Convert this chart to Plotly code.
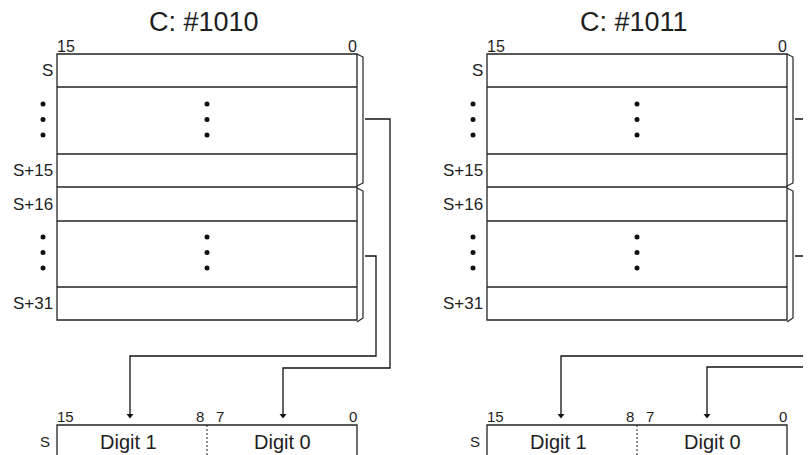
import plotly.graph_objects as go

# labels / texts
panel_titles = ["C: #1010", "C: #1011"]
row_labels = ["S", "S+15", "S+16", "S+31"]
top_bits = ["15", "0"]
bottom_bits = ["15", "8", "7", "0"]
digit_labels = ["Digit 1", "Digit 0"]

# geometry (pixel space of the page)
shift = [0, 430]
box_l, box_r = 57, 357
row_edges = [54, 87, 154, 187, 221, 287, 320]
label_rows_y = [70.5, 170.5, 204, 303.5]
dot_rows_y = [104, 119.5, 135, 237, 252.5, 268]
bot_top, bot_mid = 425, 207

# connector routes per panel: list of (x, y) polylines
routes = [
    [[(365, 119), (390, 119), (390, 368), (283, 368), (283, 414)],
     [(365, 256), (376, 256), (376, 356), (130, 356), (130, 414)]],
    [[(795, 119), (822, 119), (822, 356), (561, 356), (561, 414)],
     [(795, 256), (806, 256), (806, 367), (707, 367), (707, 414)]],
]

LINE = "#222222"
TXT = "#1e1e1e"
FONT = "Liberation Sans, Arial, Helvetica, sans-serif"

# the page body has an 8px margin, so the figure starts at (8, 8)
OFF = 8

fig = go.Figure()
shapes = []
annots = []

for p, dx in enumerate(shift):
    l, r = box_l + dx, box_r + dx
    # register box
    shapes.append(dict(type="rect", x0=l, x1=r, y0=row_edges[0], y1=row_edges[-1],
                       line=dict(color=LINE, width=1.3)))
    for y in row_edges[1:-1]:
        shapes.append(dict(type="line", x0=l, x1=r, y0=y, y1=y,
                           line=dict(color=LINE, width=1.3)))
    # braces
    shapes.append(dict(type="path",
                       path=f"M{r},{54} L{r+6},{57} L{r+6},{183} L{r},{186}",
                       line=dict(color=LINE, width=1.2)))
    shapes.append(dict(type="path",
                       path=f"M{r},{188} L{r+6},{191} L{r+6},{318} L{r},{322}",
                       line=dict(color=LINE, width=1.2)))
    # bottom word box
    shapes.append(dict(type="rect", x0=l, x1=r, y0=bot_top, y1=470,
                       line=dict(color=LINE, width=1.3)))
    shapes.append(dict(type="line", x0=bot_mid + dx, x1=bot_mid + dx, y0=bot_top, y1=470,
                       line=dict(color=LINE, width=1, dash="2px,2px")))

    # title
    annots.append(dict(x=(l + r) / 2 - 3, y=22, text=panel_titles[p], showarrow=False,
                       font=dict(size=27, color=TXT)))
    # top bit numbers
    annots.append(dict(x=l - 2, y=46, text=top_bits[0], showarrow=False, xanchor="left",
                       font=dict(size=16, color=TXT)))
    annots.append(dict(x=r + 2, y=46, text=top_bits[1], showarrow=False, xanchor="right",
                       font=dict(size=16, color=TXT)))
    # row labels
    for lab, y in zip(row_labels, label_rows_y):
        annots.append(dict(x=l - 2, y=y, text=lab, showarrow=False, xanchor="right",
                           font=dict(size=17, color=TXT)))
    # bottom bit numbers
    bx = [(l - 2, "left"), (bot_mid + dx - 1, "right"), (bot_mid + dx + 7, "left"), (r + 2, "right")]
    for lab, (x, anc) in zip(bottom_bits, bx):
        annots.append(dict(x=x, y=416, text=lab, showarrow=False, xanchor=anc,
                           font=dict(size=15, color=TXT)))
    annots.append(dict(x=l - 5, y=441, text="S", showarrow=False, xanchor="right",
                       font=dict(size=15, color=TXT)))
    annots.append(dict(x=(l + bot_mid + dx) / 2 - 4, y=442, text=digit_labels[0], showarrow=False,
                       font=dict(size=20, color=TXT)))
    annots.append(dict(x=(bot_mid + dx + r) / 2, y=442, text=digit_labels[1], showarrow=False,
                       font=dict(size=20, color=TXT)))

    # dots
    fig.add_trace(go.Scatter(
        x=[43 + dx] * 6 + [207 + dx] * 6, y=dot_rows_y * 2, mode="markers",
        marker=dict(size=5, color="#111111"), hoverinfo="skip", showlegend=False))

    # connectors
    for route in routes[p]:
        xs = [pt[0] for pt in route]
        ys = [pt[1] for pt in route]
        fig.add_trace(go.Scatter(x=xs, y=ys, mode="lines",
                                 line=dict(color="#111111", width=1.3),
                                 hoverinfo="skip", showlegend=False))
        fig.add_trace(go.Scatter(x=[xs[-1]], y=[ys[-1] + 1.5], mode="markers",
                                 marker=dict(symbol="triangle-down", size=6, color="#111111",
                                             line=dict(width=0)),
                                 hoverinfo="skip", showlegend=False))

fig.update_layout(
    width=811 - OFF, height=455 - OFF,
    margin=dict(l=0, r=0, t=0, b=0),
    paper_bgcolor="white", plot_bgcolor="white",
    xaxis=dict(range=[OFF, 811], visible=False, fixedrange=True),
    yaxis=dict(range=[455, OFF], visible=False, fixedrange=True),
    shapes=shapes, annotations=annots,
    font=dict(family=FONT),
)

fig.write_html("out.html", config={"displayModeBar": False})
